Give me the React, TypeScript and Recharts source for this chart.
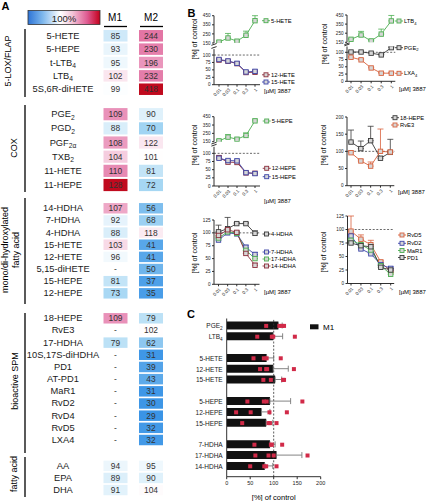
import React from 'react';
import {
  ScatterChart, Scatter, LineChart, Line, ComposedChart, Bar,
  XAxis, YAxis, ErrorBar, ReferenceLine,
} from 'recharts';

const W = 431;
const H = 501;
const INK = '#1a1a1a';
const FONT = '"Liberation Sans", Arial, Helvetica, sans-serif';
const LAYER: React.CSSProperties = { position: 'absolute', left: 0, top: 0 };

// ---------- A: lipid mediators, % of vehicle control (M1 / M2)
const LOX_ROWS = ['5-HETE', '5-HEPE', 't-LTB_4', 'LTB_4', '5S,6R-diHETE'];
const LOX_M1 = [85, 93, 95, 102, 99];
const LOX_M2 = [244, 230, 196, 232, 418];

const COX_ROWS = ['PGE_2', 'PGD_2', 'PGF_2α', 'TXB_2', '11-HETE', '11-HEPE'];
const COX_M1 = [109, 88, 108, 104, 110, 128];
const COX_M2 = [90, 70, 122, 101, 81, 72];

const OH_ROWS = ['14-HDHA', '7-HDHA', '4-HDHA', '15-HETE', '12-HETE', '5,15-diHETE', '15-HEPE', '12-HEPE'];
const OH_M1 = [107, 92, 88, 103, 96, null, 81, 73];
const OH_M2 = [56, 68, 118, 41, 41, 50, 37, 35];

const SPM_ROWS = ['18-HEPE', 'RvE3', '17-HDHA', '10S,17S-diHDHA', 'PD1', 'AT-PD1', 'MaR1', 'RvD2', 'RvD4', 'RvD5', 'LXA4'];
const SPM_M1 = [109, null, 79, null, null, null, null, null, null, null, null];
const SPM_M2 = [79, 102, 62, 31, 39, 43, 31, 30, 29, 32, 32];

const FA_ROWS = ['AA', 'EPA', 'DHA'];
const FA_M1 = [94, 89, 91];
const FA_M2 = [95, 90, 104];

// ---------- B: concentration response, [µM] 3887
const DOSES = ['0.01', '0.03', '0.1', '0.3', '1'];
const HETE5 = [160, 205, 170, 235, 395];
const HETE5_E = [15, 50, 12, 45, 55];
const HETE12 = [83, 79, 71, 41, 42];
const HETE12_E = [4, 3, 4, 3, 4];
const HETE15 = [85, 80, 72, 43, 45];
const HETE15_E = [3, 3, 4, 4, 5];
const LTB4 = [183, 230, 165, 240, 385];
const LTB4_E = [10, 40, 10, 55, 60];
const PGE2 = [101, 101, 97, 91, 116];
const PGE2_E = [3, 3, 3, 3, 3];
const LXA4 = [83, 74, 46, 28, 28];
const LXA4_E = [3, 4, 3, 2, 3];
const HEPE5 = [160, 205, 180, 225, 400];
const HEPE5_E = [15, 30, 15, 30, 20];
const HEPE12 = [87, 73, 72, 40, 39];
const HEPE12_E = [5, 3, 4, 3, 3];
const HEPE15 = [85, 78, 77, 41, 38];
const HEPE15_E = [4, 4, 5, 3, 3];
const HEPE18 = [127, 108, 131, 80, 97];
const HEPE18_E = [35, 22, 42, 5, 38];
const RVE3 = [96, 72, 57, 100, 98];
const RVE3_E = [5, 5, 12, 65, 5];
const HDHA4 = [102, 108, 118, 118, 99];
const HDHA4_E = [13, 22, 2, 2, 5];
const HDHA7 = [86, 100, 98, 72, 58];
const HDHA7_E = [4, 3, 3, 4, 4];
const HDHA17 = [90, 102, 99, 66, 50];
const HDHA17_E = [3, 4, 3, 4, 5];
const HDHA14 = [95, 106, 101, 60, 37];
const HDHA14_E = [4, 3, 3, 5, 4];
const RVD5 = [97, 82, 72, 40, 22];
const RVD5_E = [28, 8, 8, 3, 3];
const RVD2 = [88, 64, 55, 35, 28];
const RVD2_E = [3, 3, 3, 3, 3];
const MAR1 = [80, 72, 62, 33, 17];
const MAR1_E = [4, 3, 3, 3, 3];
const PD1 = [75, 70, 68, 30, 25];
const PD1_E = [4, 4, 4, 3, 3];

// ---------- C: M1, [%] of control, mean + SD and single donors
const C_NAMES = ['PGE_2', 'LTB_4', '5-HETE', '12-HETE', '15-HETE', '5-HEPE', '12-HEPE', '15-HEPE', '7-HDHA', '17-HDHA', '14-HDHA'];
const C_GROUPS = [2, 3, 3, 3];
const C_MEAN = [110, 99, 85, 99, 103, 92, 74, 84, 92, 106, 81];
const C_SD = [8, 20, 15, 32, 14, 44, 18, 14, 11, 54, 17];
const C_DONORS = [
  [84, 112, 118, 122], [65, 96, 99, 145], [57, 79, 85, 115], [71, 84, 86, 143],
  [78, 94, 120, 122], [44, 79, 85, 161], [20, 51, 91, 128], [33, 89, 92, 106],
  [59, 94, 96, 118], [61, 89, 100, 172], [50, 80, 84, 106],
];

const GREEN = '#4cae50';
const DRED = '#8c2f3c';
const BLUE = '#3c44a8';
const ORANGE = '#d8613c';
const GREY = '#3a3a3a';

// subscript after "_"
function Sub({ s, fs }: { s: string; fs: number }) {
  const [a, b] = s.split('_');
  return (
    <>
      {a}
      {b ? <tspan fontSize={fs * 0.72} dy={fs * 0.28}>{b}</tspan> : null}
    </>
  );
}

// ---------- heatmap colours
type Stop = [number, number[]];
const RED_RAMP: Stop[] = [[0, [255, 255, 255]], [0.3, [234, 150, 188]], [0.55, [222, 96, 148]], [1, [192, 10, 30]]];
const BLUE_RAMP: Stop[] = [[0, [255, 255, 255]], [0.4, [165, 214, 243]], [1, [58, 148, 230]]];
function ramp(stops: Stop[], t: number) {
  const u = Math.max(0, Math.min(1, t));
  for (let i = 1; i < stops.length; i++) {
    const [t0, c0] = stops[i - 1];
    const [t1, c1] = stops[i];
    if (u <= t1) {
      const f = (u - t0) / (t1 - t0);
      return `rgb(${c0.map((c, k) => Math.round(c + (c1[k] - c) * f)).join(',')})`;
    }
  }
  return 'rgb(192,10,30)';
}
const ALL_M1 = [...LOX_M1, ...COX_M1, ...OH_M1, ...SPM_M1, ...FA_M1].filter((v) => v != null) as number[];
const ALL_M2 = [...LOX_M2, ...COX_M2, ...OH_M2, ...SPM_M2, ...FA_M2];
const HI: Record<string, number> = { M1: Math.max(...ALL_M1), M2: Math.max(...ALL_M2) };
const LO = Math.min(...ALL_M1, ...ALL_M2);
const heatColor = (v: number, col: string) =>
  v >= 100 ? ramp(RED_RAMP, (v - 100) / (HI[col] - 100)) : ramp(BLUE_RAMP, (100 - v) / (100 - LO));

const A_X0 = 97.75;
const A_X1 = 168.75;

const HEAT = [
  { label: ['5-LOX/FLAP'], lx: [8.3], ly: 61, bracket: [29, 97], rows: LOX_ROWS, m1: LOX_M1, m2: LOX_M2, y0: 29.1, y1: 95.9 },
  { label: ['COX'], lx: [14.2], ly: 148, bracket: [105, 192], rows: COX_ROWS, m1: COX_M1, m2: COX_M2, y0: 107.1, y1: 192.1 },
  { label: ['mono/di-hydroxylated', 'fatty acid'], lx: [5, 15.5], ly: 250, bracket: [198, 304], rows: OH_ROWS, m1: OH_M1, m2: OH_M2, y0: 202.2, y1: 299.4 },
  { label: ['bioactive SPM'], lx: [15], ly: 381, bracket: [313, 453], rows: SPM_ROWS, m1: SPM_M1, m2: SPM_M2, y0: 312.2, y1: 446.1 },
  { label: ['fatty acid'], lx: [14], ly: 474, bracket: [457, 497], rows: FA_ROWS, m1: FA_M1, m2: FA_M2, y0: 459.8, y1: 496.1 },
];

const RowTick = (p: any) => (
  <text x={63} y={p.y} textAnchor="middle" dominantBaseline="central" fontSize={9.3} fill={INK}>
    <Sub s={String(p.payload.value)} fs={9.3} />
  </text>
);

const HeatCell = (p: any) => {
  if (p.cx == null || p.cy == null) return null;
  const v = p.payload.v;
  const h = p.h;
  return (
    <g>
      <rect x={p.cx - 12} y={p.cy - h / 2} width={24} height={h} fill={v == null ? 'none' : heatColor(v, p.payload.col)} />
      <text x={p.cx} y={p.cy} textAnchor="middle" dominantBaseline="central" fontSize={8.4} fill="#333">
        {v == null ? '-' : v}
      </text>
    </g>
  );
};

function HeatGroup({ rows, m1, m2, y0, y1 }: any) {
  const pts = [
    ...rows.map((row: string, i: number) => ({ row, col: 'M1', v: m1[i] })),
    ...rows.map((row: string, i: number) => ({ row, col: 'M2', v: m2[i] })),
  ];
  const h = ((y1 - y0) / rows.length) * 0.86;
  return (
    <div style={LAYER}>
      <ScatterChart width={W} height={H} margin={{ left: A_X0 - 40, right: W - A_X1, top: y0, bottom: H - y1 }}>
        <XAxis type="category" dataKey="col" hide allowDuplicatedCategory={false} />
        <YAxis type="category" dataKey="row" width={40} reversed allowDuplicatedCategory={false}
          axisLine={false} tickLine={false} interval={0} tick={<RowTick />} />
        <Scatter data={pts} shape={<HeatCell h={h} />} isAnimationActive={false} />
      </ScatterChart>
    </div>
  );
}

// ---------- B panels
const UP_DOM = [150, 450];
const UP_TICKS = [150, 250, 350, 450];
const LO_DOM = [0, 120];
const LO_TICKS = [0, 25, 50, 75, 100];

const B_PANELS = [
  {
    x0: 214, x1: 260, pad: 5, title: [194, 39], unit: [264, 90.7], sx: 266, tx: 271,
    segs: [
      { y0: 15.7, y1: 43, domain: UP_DOM, ticks: UP_TICKS, series: [{ name: '5-HETE', v: HETE5, e: HETE5_E, c: GREEN, ky: 20.7 }] },
      {
        y0: 49.1, y1: 84.7, domain: LO_DOM, ticks: LO_TICKS, axis: true, ref: true,
        series: [
          { name: '12-HETE', v: HETE12, e: HETE12_E, c: DRED, ky: 74.8 },
          { name: '15-HETE', v: HETE15, e: HETE15_E, c: BLUE, ky: 82 },
        ],
      },
    ],
  },
  {
    x0: 347, x1: 395.3, pad: 4, title: [324, 44], unit: [399, 89.3], sx: 399, tx: 404,
    segs: [
      { y0: 15, y1: 42.3, domain: UP_DOM, ticks: UP_TICKS, series: [{ name: 'LTB_4', v: LTB4, e: LTB4_E, c: GREEN, ky: 21 }] },
      {
        y0: 46.5, y1: 81.3, domain: LO_DOM, ticks: LO_TICKS, axis: true, ref: true,
        series: [
          { name: 'PGE_2', v: PGE2, e: PGE2_E, c: GREY, ky: 47.7 },
          { name: 'LXA_4', v: LXA4, e: LXA4_E, c: ORANGE, ky: 73.3 },
        ],
      },
    ],
  },
  {
    x0: 214, x1: 260, pad: 5, title: [194, 145], unit: [264, 201], sx: 266.7, tx: 271.7,
    segs: [
      { y0: 116.7, y1: 141.7, domain: UP_DOM, ticks: UP_TICKS, series: [{ name: '5-HEPE', v: HEPE5, e: HEPE5_E, c: GREEN, ky: 121 }] },
      {
        y0: 146.8, y1: 186, domain: LO_DOM, ticks: LO_TICKS, axis: true, ref: true,
        series: [
          { name: '12-HEPE', v: HEPE12, e: HEPE12_E, c: DRED, ky: 168.3 },
          { name: '15-HEPE', v: HEPE15, e: HEPE15_E, c: BLUE, ky: 176.7 },
        ],
      },
    ],
  },
  {
    x0: 347, x1: 394.3, pad: 4, title: [323, 145], unit: [398, 191.7], sx: 395, tx: 400,
    segs: [
      {
        y0: 117, y1: 185.7, domain: [0, 200], ticks: [0, 50, 100, 150, 200], axis: true, ref: true,
        series: [
          { name: '18-HEPE', v: HEPE18, e: HEPE18_E, c: GREY, ky: 117.7 },
          { name: 'RvE3', v: RVE3, e: RVE3_E, c: ORANGE, ky: 125 },
        ],
      },
    ],
  },
  {
    x0: 214, x1: 259.5, pad: 4.5, title: [194, 253], unit: [264, 292.3], sx: 266.5, tx: 271,
    segs: [
      {
        y0: 220, y1: 284.3, domain: [0, 125], ticks: [0, 25, 50, 75, 100, 125], axis: true, ref: true,
        series: [
          { name: '4-HDHA', v: HDHA4, e: HDHA4_E, c: GREY, ky: 234 },
          { name: '7-HDHA', v: HDHA7, e: HDHA7_E, c: BLUE, ky: 252 },
          { name: '17-HDHA', v: HDHA17, e: HDHA17_E, c: GREEN, ky: 259 },
          { name: '14-HDHA', v: HDHA14, e: HDHA14_E, c: DRED, ky: 266 },
        ],
      },
    ],
  },
  {
    x0: 347.5, x1: 394.2, pad: 3.5, title: [323, 252], unit: [399, 292.3], sx: 402, tx: 407,
    segs: [
      {
        y0: 216, y1: 283.5, domain: [0, 125], ticks: [0, 25, 50, 75, 100, 125], axis: true, ref: true,
        series: [
          { name: 'RvD5', v: RVD5, e: RVD5_E, c: ORANGE, ky: 235 },
          { name: 'RvD2', v: RVD2, e: RVD2_E, c: BLUE, ky: 243.3 },
          { name: 'MaR1', v: MAR1, e: MAR1_E, c: GREEN, ky: 250.5 },
          { name: 'PD1', v: PD1, e: PD1_E, c: GREY, ky: 257.5 },
        ],
      },
    ],
  },
];

const DoseTick = (p: any) => (
  <text x={0} y={0} transform={`translate(${p.x + 1.5},${p.y + 0.5}) rotate(-45)`} textAnchor="end"
    dominantBaseline="central" fontSize={4.6} fill={INK}>
    {p.payload.value}
  </text>
);

const squareDot = (color: string) => (p: any) => {
  if (p.cx == null || p.cy == null) return <g key={p.key ?? p.index} />;
  return (
    <rect key={p.key ?? p.index} x={p.cx - 2.2} y={p.cy - 2.2} width={4.4} height={4.4}
      fill="#d6d6d6" stroke={color} strokeWidth={0.9} />
  );
};

function Segment({ p, s }: any) {
  const data = DOSES.map((dose, i) => {
    const row: Record<string, unknown> = { dose };
    s.series.forEach((ser: any, k: number) => {
      row[`v${k}`] = ser.v[i];
      row[`e${k}`] = [0, ser.e[i]];
    });
    return row;
  });
  const xh = s.axis ? 16 : 0;
  return (
    <div style={LAYER}>
      <LineChart width={W} height={H} data={data}
        margin={{ left: p.x0 - 16, right: W - p.x1, top: s.y0, bottom: H - s.y1 - xh }}>
        <XAxis dataKey="dose" scale="point" hide={!s.axis} height={16} padding={{ left: p.pad, right: p.pad }}
          interval={0} tickSize={2} tick={<DoseTick />} stroke={INK} strokeWidth={0.9} />
        <YAxis type="number" width={16} domain={s.domain} ticks={s.ticks} interval={0} allowDataOverflow
          tickSize={2} tickMargin={1.5} tick={{ fontSize: 4.6, fill: INK }} stroke={INK} strokeWidth={0.9} />
        {s.ref && <ReferenceLine y={100} stroke="#444" strokeDasharray="2 1.6" strokeWidth={0.8} />}
        {s.series.map((ser: any, k: number) => (
          <Line key={ser.name} dataKey={`v${k}`} stroke={ser.c} strokeWidth={0.9} dot={squareDot(ser.c)}
            activeDot={false} isAnimationActive={false}>
            <ErrorBar dataKey={`e${k}`} direction="y" width={3} stroke={ser.c} strokeWidth={0.8} />
          </Line>
        ))}
      </LineChart>
    </div>
  );
}

// ---------- C panel
const CTick = (p: any) => (
  <text x={p.x} y={p.y} textAnchor="end" dominantBaseline="central" fontSize={6.5} fill={INK}>
    <Sub s={String(p.payload.value)} fs={6.5} />
  </text>
);

const DonorMark = (p: any) =>
  p.cx == null || p.cy == null ? null : <rect x={p.cx - 2} y={p.cy - 2} width={4} height={4} fill="#d12a48" />;

function PanelC() {
  const rows: Record<string, unknown>[] = [];
  let k = 0;
  C_GROUPS.forEach((n, g) => {
    if (g > 0) rows.push({ name: ' '.repeat(g) });
    for (let i = 0; i < n; i++, k++) rows.push({ name: C_NAMES[k], mean: C_MEAN[k], sd: [0, C_SD[k]] });
  });
  const pts = rows.flatMap((r) => {
    const i = C_NAMES.indexOf(r.name as string);
    return i < 0 ? [{ name: r.name }] : C_DONORS[i].map((v) => ({ name: r.name, v }));
  });
  return (
    <div style={LAYER}>
      <ComposedChart layout="vertical" width={W} height={H} data={rows}
        margin={{ left: 226.7 - 50, right: W - 320.7, top: 318.5, bottom: H - 476.7 - 14 }}>
        <XAxis type="number" domain={[0, 200]} ticks={[0, 50, 100, 150, 200]} interval={0} height={14}
          allowDataOverflow tickSize={2.5} tick={{ fontSize: 5.5, fill: INK }} stroke={INK} strokeWidth={0.9} />
        <YAxis type="category" dataKey="name" width={50} allowDuplicatedCategory={false}
          padding={{ top: 2, bottom: 5 }} interval={0} tickLine={false} tickSize={2} tick={<CTick />}
          stroke={INK} strokeWidth={0.9} />
        <ReferenceLine x={100} stroke="#333" strokeDasharray="2 1.6" strokeWidth={0.8} />
        <Bar dataKey="mean" fill="#111" barSize={8} isAnimationActive={false}>
          <ErrorBar dataKey="sd" direction="x" width={3} stroke="#777" strokeWidth={0.9} />
        </Bar>
        <Scatter data={pts} dataKey="v" shape={<DonorMark />} isAnimationActive={false} />
      </ComposedChart>
    </div>
  );
}

// ---------- titles, keys, brackets
function Overlay() {
  const rot = (x: number, y: number) => `rotate(-90 ${x} ${y})`;
  return (
    <svg width={W} height={H} style={LAYER}>
      <defs>
        <linearGradient id="heatbar" x1="0" x2="1" y1="0" y2="0">
          <stop offset="0" stopColor="#2e74d6" />
          <stop offset="0.2" stopColor="#7cb6ec" />
          <stop offset="0.45" stopColor="#ffffff" />
          <stop offset="0.62" stopColor="#f3c2d6" />
          <stop offset="0.82" stopColor="#df5c93" />
          <stop offset="1" stopColor="#c4001c" />
        </linearGradient>
      </defs>

      <text x={1.5} y={9.5} fontSize={11} fontWeight="bold">A</text>
      <text x={187.5} y={17} fontSize={11} fontWeight="bold">B</text>
      <text x={187} y={318} fontSize={11} fontWeight="bold">C</text>

      <rect x={28} y={10.5} width={72} height={14} fill="url(#heatbar)" stroke="#333" strokeWidth={0.8} />
      <text x={64} y={18} textAnchor="middle" dominantBaseline="central" fontSize={9.5} fill="#222">100%</text>
      <text x={115} y={17} textAnchor="middle" dominantBaseline="central" fontSize={10}>M1</text>
      <text x={151} y={17} textAnchor="middle" dominantBaseline="central" fontSize={10}>M2</text>
      <line x1={104} x2={127} y1={26.5} y2={26.5} stroke="#000" strokeWidth={1.3} />
      <line x1={140} x2={163} y1={26.5} y2={26.5} stroke="#000" strokeWidth={1.3} />

      {HEAT.map((g) => (
        <g key={g.label.join()}>
          <line x1={25} x2={25} y1={g.bracket[0]} y2={g.bracket[1]} stroke="#000" strokeWidth={1.3} />
          {g.label.map((t, i) => (
            <text key={t} x={g.lx[i]} y={g.ly} transform={rot(g.lx[i], g.ly)} textAnchor="middle"
              dominantBaseline="central" fontSize={9}>{t}</text>
          ))}
        </g>
      ))}

      {B_PANELS.map((p, i) => {
        const items = p.segs.flatMap((s: any) => s.series);
        return (
          <g key={i}>
            <text x={p.title[0]} y={p.title[1]} transform={rot(p.title[0], p.title[1])} textAnchor="middle"
              dominantBaseline="central" fontSize={7}>[%] of control</text>
            <text x={p.unit[0]} y={p.unit[1]} dominantBaseline="central" fontSize={6}>[µM] 3887</text>
            {p.segs.length === 2 && [p.segs[0].y1 + 1.4, p.segs[1].y0 - 1.6].map((y) => (
              <line key={y} x1={p.x0 - 2.6} x2={p.x0 + 2.6} y1={y + 0.9} y2={y - 0.9} stroke={INK} strokeWidth={0.9} />
            ))}
            {items.map((it: any) => (
              <g key={it.name}>
                <line x1={p.sx - 4} x2={p.sx + 4} y1={it.ky} y2={it.ky} stroke={it.c} strokeWidth={0.9} />
                <rect x={p.sx - 2} y={it.ky - 2} width={4} height={4} fill="#d6d6d6" stroke={it.c} strokeWidth={0.9} />
                <text x={p.tx} y={it.ky} dominantBaseline="central" fontSize={5.8}>
                  <Sub s={it.name} fs={5.8} />
                </text>
              </g>
            ))}
          </g>
        );
      })}

      <rect x={310} y={324.3} width={8.5} height={5} fill="#111" />
      <text x={323} y={327} dominantBaseline="central" fontSize={8}>M1</text>
      <text x={273.7} y={497.5} textAnchor="middle" dominantBaseline="central" fontSize={7.5}>[%] of control</text>
    </svg>
  );
}

export default function App() {
  return (
    <div style={{ position: 'absolute', left: 0, top: 0, width: W, height: H, background: '#fff', fontFamily: FONT, color: INK, overflow: 'hidden' }}>
      {HEAT.map((g) => <HeatGroup key={g.label.join()} {...g} />)}
      {B_PANELS.map((p, i) => p.segs.map((s: any, j: number) => <Segment key={`${i}-${j}`} p={p} s={s} />))}
      <PanelC />
      <Overlay />
    </div>
  );
}
